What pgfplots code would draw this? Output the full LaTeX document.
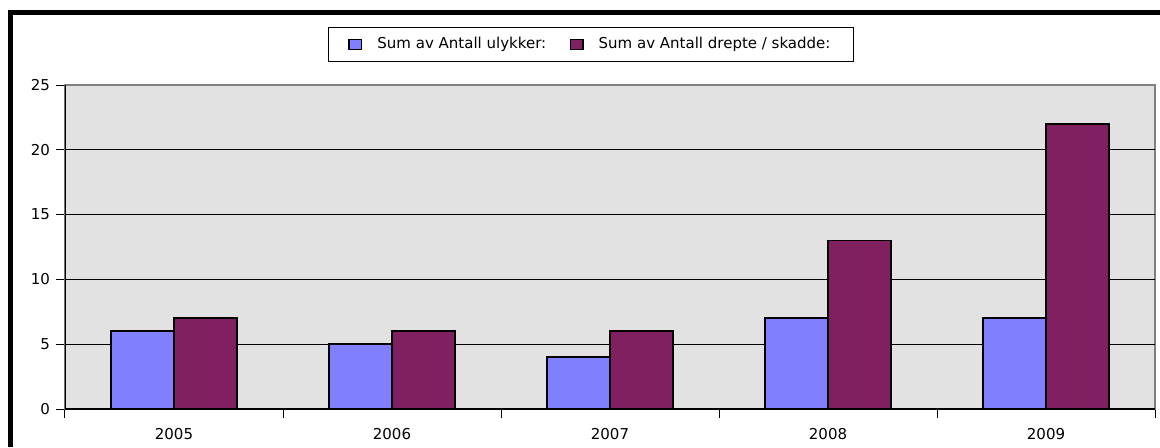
\documentclass[border=0pt]{standalone}
\usepackage{fontspec}
\setmainfont{DejaVu Sans}
\usepackage{pgfplots}
\pgfplotsset{compat=1.18}
\definecolor{cblue}{RGB}{128,128,255}
\definecolor{cpurple}{RGB}{128,32,96}
\definecolor{bgc}{RGB}{226,226,226}
\begin{document}
\begin{tikzpicture}[x=1pt,y=1pt]
\useasboundingbox (0,0) rectangle (696,268.2);
\fill[white] (0,0) rectangle (696,268.2);
\draw[line width=3pt, black] (6.3,0) -- (6.3,260.7) -- (696,260.7);
\begin{axis}[
  at={(39pt,22.8pt)}, anchor=south west, scale only axis,
  width=654pt, height=194.4pt,
  xmin=-0.5, xmax=4.5, ymin=0, ymax=25,
  xtick pos=bottom, ytick pos=left,
  ytick={0,5,...,25},
  extra y ticks={5,10,15,20}, extra y tick labels={},
  extra y tick style={grid=major, major tick length=0pt},
  grid style={black, line width=0.6pt},
  xtick={-0.5,0.5,...,4.5}, xticklabels={},
  extra x ticks={0,1,2,3,4}, extra x tick labels={2005,2006,2007,2008,2009},
  extra x tick style={major tick length=0pt, xticklabel style={yshift=-8pt}},
  tick align=outside, major tick length=5.5pt,
  tick style={black, line width=0.6pt},
  axis background/.style={fill=bgc},
  axis line style={draw=gray, line width=0.8pt},
  ticklabel style={font=\fontsize{9}{10}\selectfont},
  /pgf/number format/assume math mode=true,
  legend style={at={(0.4826,1.125)}, anchor=center, draw=black, line width=0.6pt,
    font=\fontsize{9}{10}\selectfont, inner xsep=12pt, inner ysep=4pt,
    /tikz/every odd column/.append style={column sep=7pt},
    /tikz/every even column/.append style={column sep=12pt}},
  legend columns=2,
  legend image code/.code={\draw[#1, line width=1pt] (0pt,-3pt) rectangle (7.5pt,3pt);},
]
\addplot[ybar, bar width=0.289, bar shift=-0.1445, fill=cblue, draw=black, line width=1pt]
  coordinates {(0,6) (1,5) (2,4) (3,7) (4,7)};
\addlegendentry{Sum av Antall ulykker:}
\addplot[ybar, bar width=0.289, bar shift=0.1445, fill=cpurple, draw=black, line width=1pt]
  coordinates {(0,7) (1,6) (2,6) (3,13) (4,22)};
\addlegendentry{Sum av Antall drepte / skadde:}
\draw[black, line width=0.8pt] (rel axis cs:0,1) -- (rel axis cs:0,0) -- (rel axis cs:1,0);
\end{axis}
\end{tikzpicture}
\end{document}
